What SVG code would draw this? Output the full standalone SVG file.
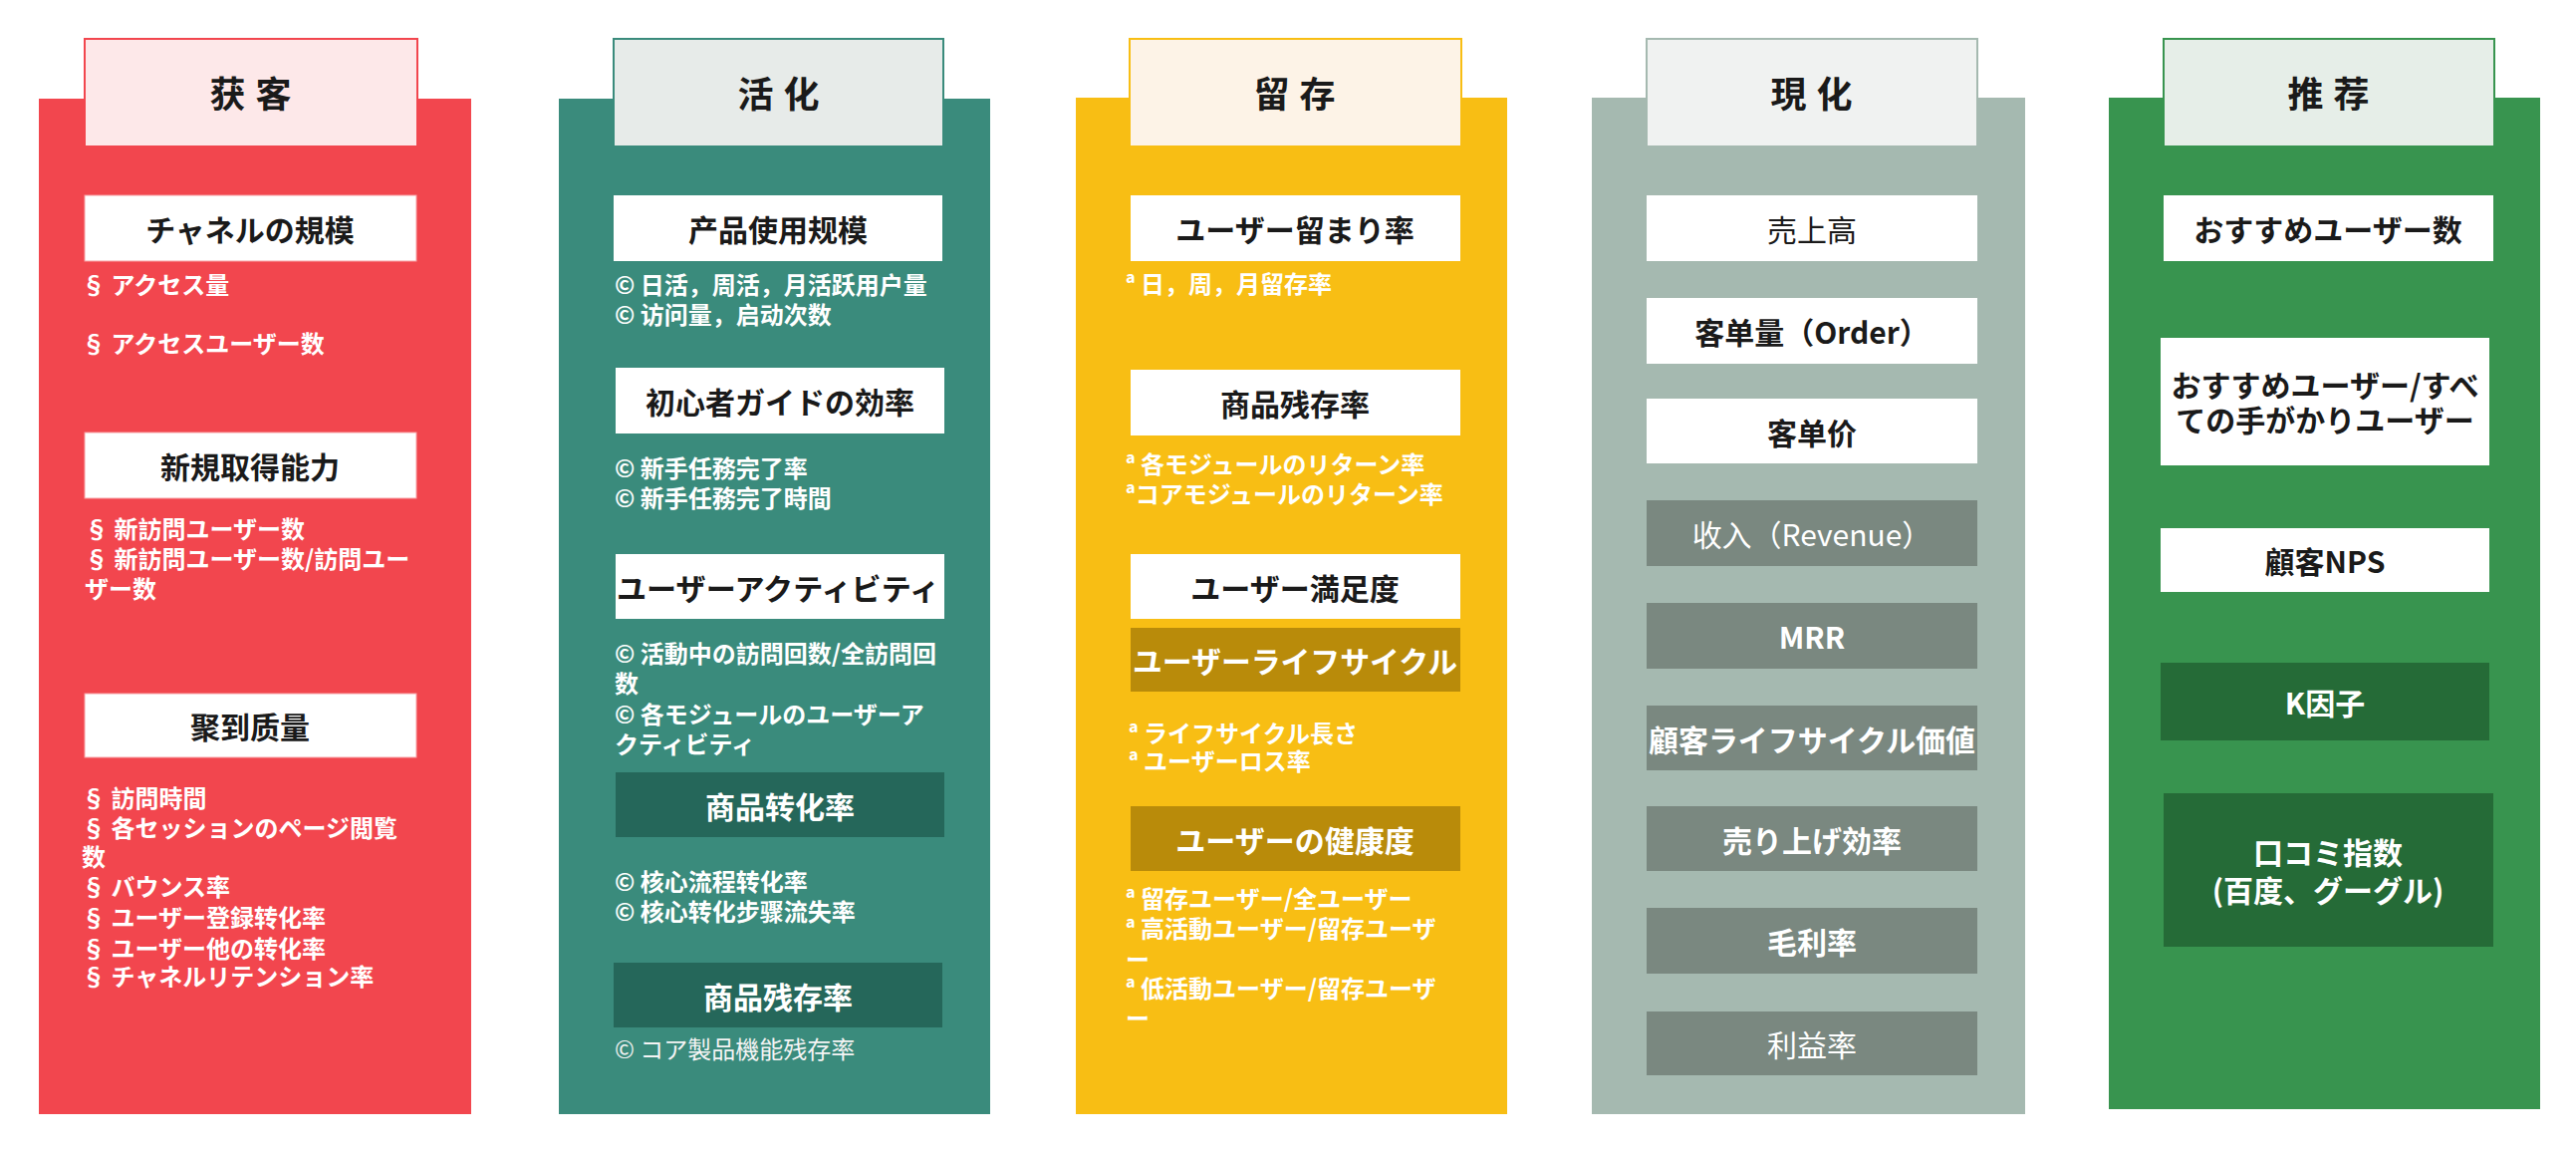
<svg xmlns="http://www.w3.org/2000/svg" width="2586" height="1159" viewBox="0 0 2586 1159">
<style>
text{font-family:"Noto Sans CJK SC","Noto Sans CJK JP",sans-serif}
.hd{font-size:36px;font-weight:700;fill:#1a1a1a;text-anchor:middle;dominant-baseline:central;letter-spacing:1px}
.bt{font-size:30px;font-weight:700;fill:#1a1a1a;text-anchor:middle;dominant-baseline:central}
.bn{font-size:30px;font-weight:400;fill:#1a1a1a;text-anchor:middle;dominant-baseline:central}
.bw{font-size:30px;font-weight:700;fill:#ffffff;text-anchor:middle;dominant-baseline:central}
.bwn{font-size:30px;font-weight:400;fill:#ffffff;text-anchor:middle;dominant-baseline:central}
.li{font-size:24px;font-weight:700;fill:#ffffff;dominant-baseline:central}
.lin{font-size:24px;font-weight:400;fill:#f4f4f4;dominant-baseline:central}
.wb{fill:#ffffff}
</style>
<rect width="2586" height="1159" fill="#ffffff"/>

<g id="col-acquisition">
<rect x="39" y="99" width="434" height="1019" fill="#F2464E"/>
<rect x="85" y="39" width="334" height="108" fill="#FDE8E9" stroke="#F2464E" stroke-width="2"/>
<text class="hd" x="252" y="92">获 客</text>
<rect class="wb" x="85" y="196" width="333" height="66" stroke="#f7a0a4" stroke-width="1"/>
<text class="bt" x="251" y="229">チャネルの規模</text>
<text class="li" x="82" y="284">§ アクセス量</text>
<text class="li" x="82" y="343">§ アクセスユーザー数</text>
<rect class="wb" x="85" y="434" width="333" height="66" stroke="#f7a0a4" stroke-width="1"/>
<text class="bt" x="251" y="467">新規取得能力</text>
<text class="li"><tspan x="85" y="529">§ 新訪問ユーザー数</tspan><tspan x="85" y="559">§ 新訪問ユーザー数/訪問ユー</tspan><tspan x="85" y="589">ザー数</tspan></text>
<rect class="wb" x="85" y="696" width="333" height="64" stroke="#f7a0a4" stroke-width="1"/>
<text class="bt" x="251" y="728">聚到质量</text>
<text class="li"><tspan x="82" y="799">§ 訪問時間</tspan><tspan x="82" y="829">§ 各セッションのページ閲覧</tspan><tspan x="82" y="858">数</tspan><tspan x="82" y="888">§ バウンス率</tspan><tspan x="82" y="919">§ ユーザー登録转化率</tspan><tspan x="82" y="950">§ ユーザー他の转化率</tspan><tspan x="82" y="978">§ チャネルリテンション率</tspan></text>
</g>

<g id="col-activation">
<rect x="561" y="99" width="433" height="1019" fill="#3A8B7C"/>
<rect x="616" y="39" width="331" height="108" fill="#E7EBE9" stroke="#3A8B7C" stroke-width="2"/>
<text class="hd" x="782" y="92">活 化</text>
<rect class="wb" x="616" y="196" width="330" height="66"/>
<text class="bt" x="781" y="229">产品使用规模</text>
<text class="li"><tspan x="617" y="284">© 日活，周活，月活跃用户量</tspan><tspan x="617" y="314">© 访问量，启动次数</tspan></text>
<rect class="wb" x="618" y="369" width="330" height="66"/>
<text class="bt" x="783" y="402">初心者ガイドの効率</text>
<text class="li"><tspan x="617" y="468">© 新手任務完了率</tspan><tspan x="617" y="498">© 新手任務完了時間</tspan></text>
<rect class="wb" x="618" y="556" width="330" height="65"/>
<text class="bt" x="781" y="589" textLength="324" lengthAdjust="spacingAndGlyphs">ユーザーアクティビティ</text>
<text class="li"><tspan x="617" y="654">© 活動中の訪問回数/全訪問回</tspan><tspan x="617" y="684">数</tspan><tspan x="617" y="715">© 各モジュールのユーザーア</tspan><tspan x="617" y="745">クティビティ</tspan></text>
<rect x="618" y="775" width="330" height="65" fill="#25675A"/>
<text class="bw" x="783" y="808">商品转化率</text>
<text class="li"><tspan x="617" y="883">© 核心流程转化率</tspan><tspan x="617" y="913">© 核心转化步骤流失率</tspan></text>
<rect x="616" y="966" width="330" height="65" fill="#25675A"/>
<text class="bw" x="781" y="999">商品残存率</text>
<text class="lin" x="617" y="1051">© コア製品機能残存率</text>
</g>

<g id="col-retention">
<rect x="1080" y="98" width="433" height="1020" fill="#F8BE14"/>
<rect x="1134" y="39" width="333" height="108" fill="#FDF3E7" stroke="#F8BE14" stroke-width="2"/>
<text class="hd" x="1300" y="92">留 存</text>
<rect class="wb" x="1135" y="196" width="331" height="66"/>
<text class="bt" x="1300" y="229">ユーザー留まり率</text>
<text class="li" x="1130" y="283">ª 日，周，月留存率</text>
<rect class="wb" x="1135" y="371" width="331" height="66"/>
<text class="bt" x="1300" y="404">商品残存率</text>
<text class="li"><tspan x="1130" y="464">ª 各モジュールのリターン率</tspan><tspan x="1130" y="494">ªコアモジュールのリターン率</tspan></text>
<rect class="wb" x="1135" y="556" width="331" height="65"/>
<text class="bt" x="1300" y="589">ユーザー満足度</text>
<rect x="1135" y="630" width="331" height="64" fill="#B98B0A"/>
<text class="bw" x="1300" y="662" textLength="326" lengthAdjust="spacingAndGlyphs">ユーザーライフサイクル</text>
<text class="li"><tspan x="1133" y="734">ª ライフサイクル長さ</tspan><tspan x="1133" y="762">ª ユーザーロス率</tspan></text>
<rect x="1135" y="809" width="331" height="65" fill="#B98B0A"/>
<text class="bw" x="1300" y="842">ユーザーの健康度</text>
<text class="li"><tspan x="1130" y="900">ª 留存ユーザー/全ユーザー</tspan><tspan x="1130" y="930">ª 高活動ユーザー/留存ユーザ</tspan><tspan x="1130" y="961">ー</tspan><tspan x="1130" y="990">ª 低活動ユーザー/留存ユーザ</tspan><tspan x="1130" y="1020">ー</tspan></text>
</g>

<g id="col-revenue">
<rect x="1598" y="98" width="435" height="1020" fill="#A5B9B0"/>
<rect x="1653" y="39" width="332" height="108" fill="#F0F2F1" stroke="#A5B9B0" stroke-width="2"/>
<text class="hd" x="1819" y="92">現 化</text>
<rect class="wb" x="1653" y="196" width="332" height="66"/>
<text class="bn" x="1819" y="229">売上高</text>
<rect class="wb" x="1653" y="299" width="332" height="66"/>
<text class="bt" x="1819" y="332">客单量（Order）</text>
<rect class="wb" x="1653" y="400" width="332" height="65"/>
<text class="bt" x="1819" y="433">客单价</text>
<rect x="1653" y="502" width="332" height="66" fill="#7A8880"/>
<text class="bwn" x="1819" y="535">收入（Revenue）</text>
<rect x="1653" y="605" width="332" height="66" fill="#7A8880"/>
<text class="bw" x="1819" y="638">MRR</text>
<rect x="1653" y="708" width="332" height="65" fill="#7A8880"/>
<text class="bw" x="1819" y="741" textLength="328" lengthAdjust="spacingAndGlyphs">顧客ライフサイクル価値</text>
<rect x="1653" y="809" width="332" height="65" fill="#7A8880"/>
<text class="bw" x="1819" y="842">売り上げ効率</text>
<rect x="1653" y="911" width="332" height="66" fill="#7A8880"/>
<text class="bw" x="1819" y="944">毛利率</text>
<rect x="1653" y="1015" width="332" height="64" fill="#7A8880"/>
<text class="bwn" x="1819" y="1047">利益率</text>
</g>

<g id="col-referral">
<rect x="2117" y="98" width="433" height="1015" fill="#38944F"/>
<rect x="2172" y="39" width="332" height="108" fill="#E6EEE8" stroke="#38944F" stroke-width="2"/>
<text class="hd" x="2338" y="92">推 荐</text>
<rect class="wb" x="2172" y="196" width="331" height="66"/>
<text class="bt" x="2337" y="229">おすすめユーザー数</text>
<rect class="wb" x="2169" y="339" width="330" height="128"/>
<text class="bt"><tspan x="2334" y="385">おすすめユーザー/すべ</tspan><tspan x="2334" y="420">ての手がかりユーザー</tspan></text>
<rect class="wb" x="2169" y="530" width="330" height="64"/>
<text class="bt" x="2334" y="562">顧客NPS</text>
<rect x="2169" y="665" width="330" height="78" fill="#256B37"/>
<text class="bw" x="2334" y="704">K因子</text>
<rect x="2172" y="796" width="331" height="154" fill="#256B37"/>
<text class="bw"><tspan x="2337" y="854">口コミ指数</tspan><tspan x="2337" y="892">(百度、グーグル)</tspan></text>
</g>

<g id="connectors"></g>
</svg>
